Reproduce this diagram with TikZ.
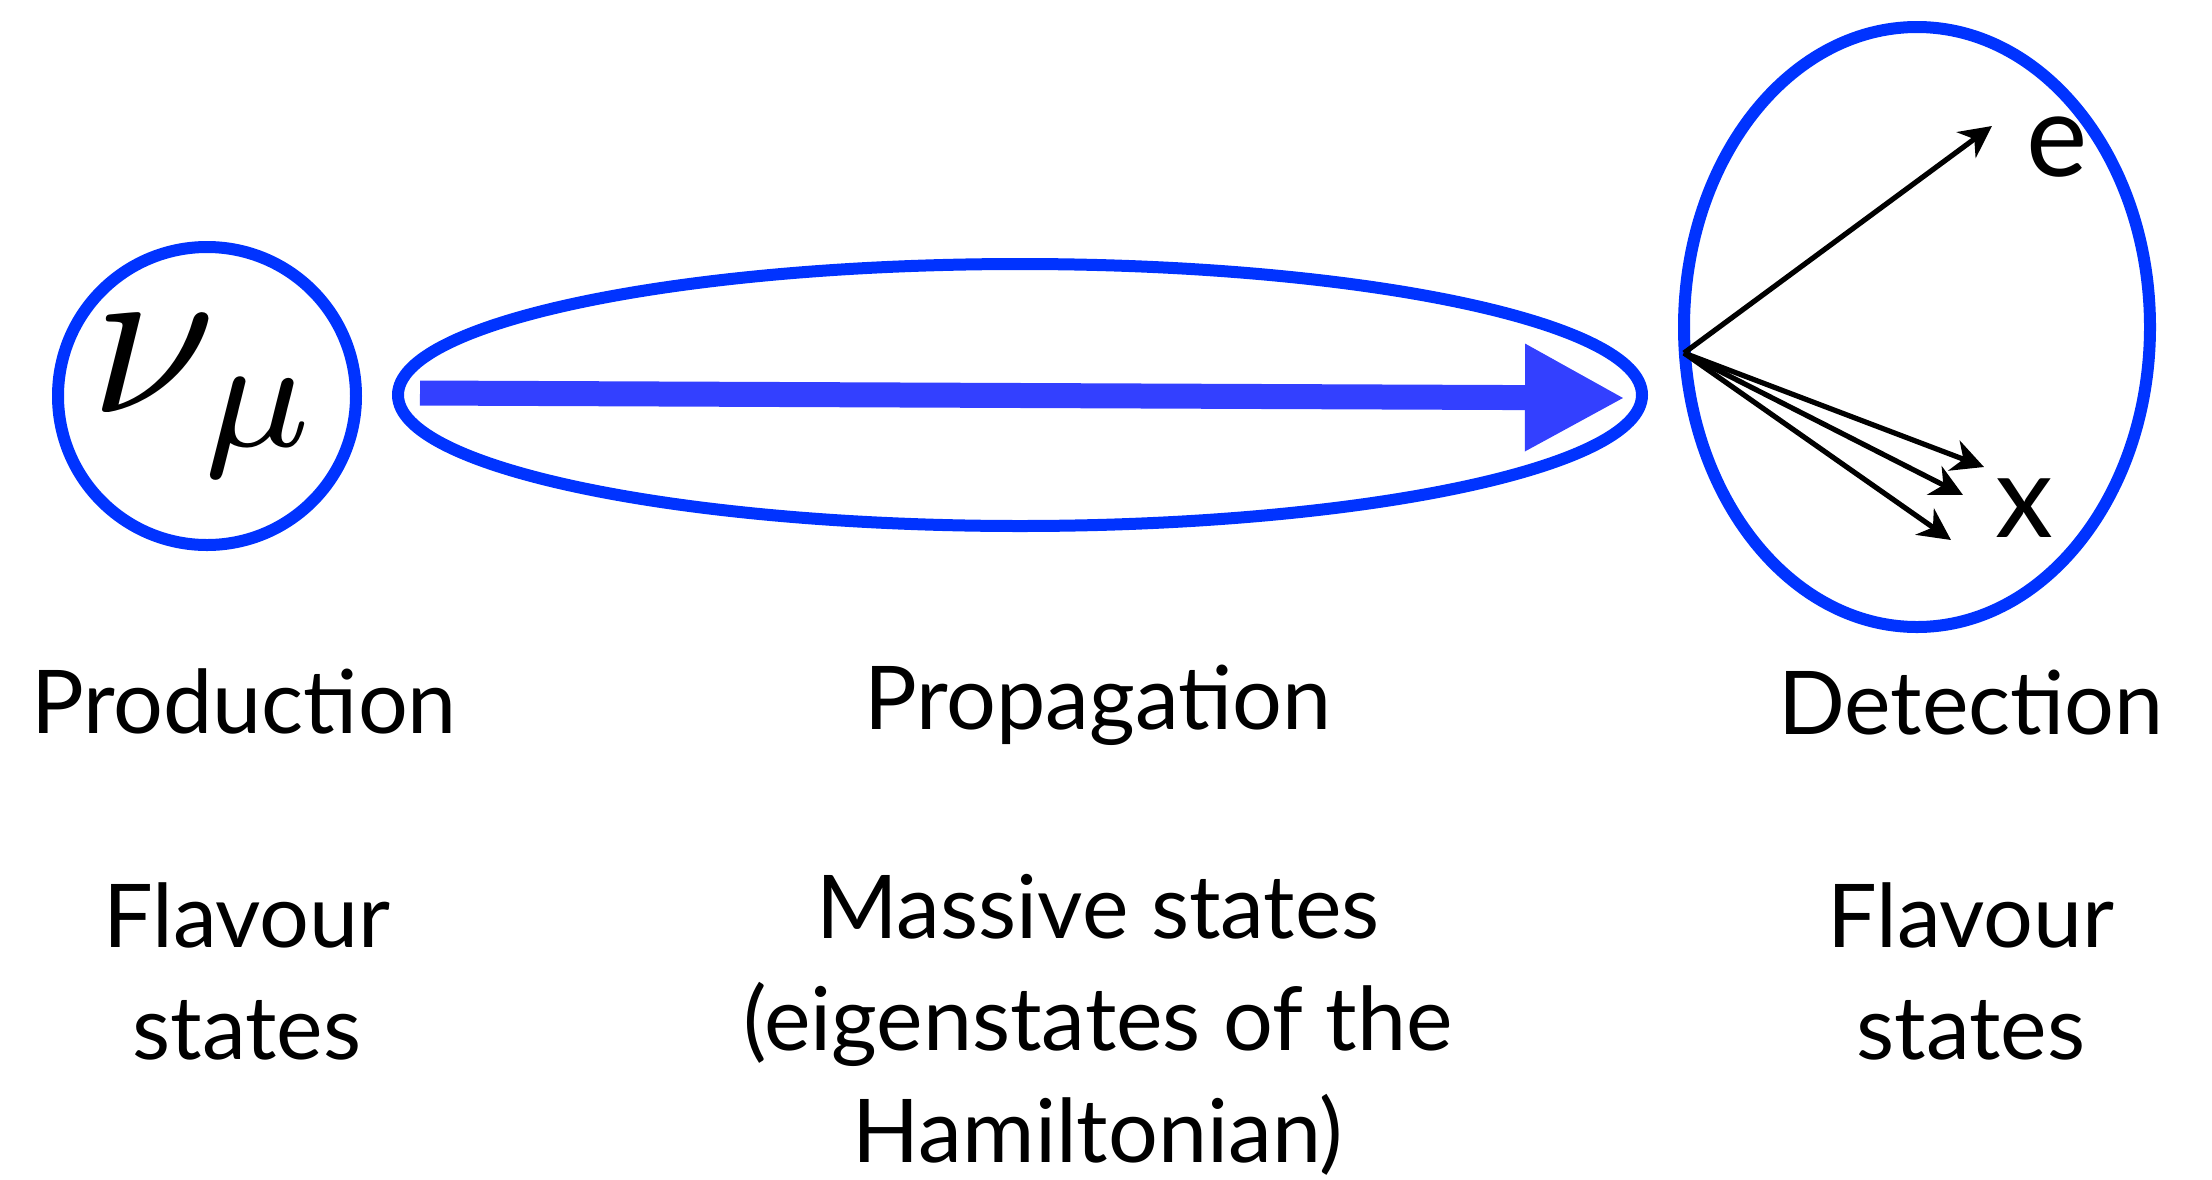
\documentclass[tikz,border=0pt]{standalone}
\usepackage{graphicx}
\usepackage{fontspec}
\setmainfont{Lato}
\usetikzlibrary{arrows.meta,positioning,shapes.geometric}
\definecolor{OscBlue}{HTML}{0033FF}
\definecolor{OscArrow}{HTML}{3340FF}

\begin{document}
\begin{tikzpicture}[x=0.5pt,y=-0.5pt,
      lbl/.style={font=\fontsize{44pt}{56pt}\selectfont,align=center,anchor=base,inner sep=0pt},
      tag/.style={font=\fontsize{58pt}{60pt}\selectfont,inner sep=0pt},
      ring/.style={draw=OscBlue,line width=6pt,inner sep=0pt},
      flow/.style={line width=12.5pt,color=OscArrow,-{Triangle[length=50pt,width=50pt]}},
      ray/.style={line width=2.6pt,-{Stealth[length=16pt,width=16pt,inset=5pt]}}]
      \useasboundingbox (0,0) rectangle (2212,1179);
      % production, propagation, detection
      \node[ring,circle,minimum size=149pt] (prod) at (207,396) {\scalebox{11.3}{$\nu_\mu$}};
      \node[ring,ellipse,minimum width=622pt,minimum height=131pt] (prop) at (1020,395) {};
      \node[ring,ellipse,minimum width=233pt,minimum height=300pt] (det) at (1917,327) {};
      \coordinate (pstart) at (420,393);
      \coordinate (pend) at (1625,398);
      \draw[flow] (pstart) -- (pend);
      % outgoing flavours
      \coordinate (src) at (1684,353);
      \coordinate (te) at (1992,126);
      \coordinate (tx1) at (1984,467);
      \coordinate (tx2) at (1963,495);
      \coordinate (tx3) at (1951,540);
      \draw[ray] (src) -- (te);
      \draw[ray] (src) -- (tx1);
      \draw[ray] (src) -- (tx2);
      \draw[ray] (src) -- (tx3);
      \node[tag] (le) at (2057,147) {e};
      \node[tag] (lx) at (2024,508) {x};
      % captions
      \node[lbl] (cprod) at (244,733) {Production};
      \node[lbl] (cprop) at (1098,729) {Propagation};
      \node[lbl] (cdet) at (1971,734) {Detection};
      \node[lbl] (sprod) at (247,1059) {Flavour\\states};
      \node[lbl] (sprop) at (1098,1162) {Massive states\\(eigenstates of the\\Hamiltonian)};
      \node[lbl] (sdet) at (1971,1059) {Flavour\\states};
    \end{tikzpicture}
\end{document}
